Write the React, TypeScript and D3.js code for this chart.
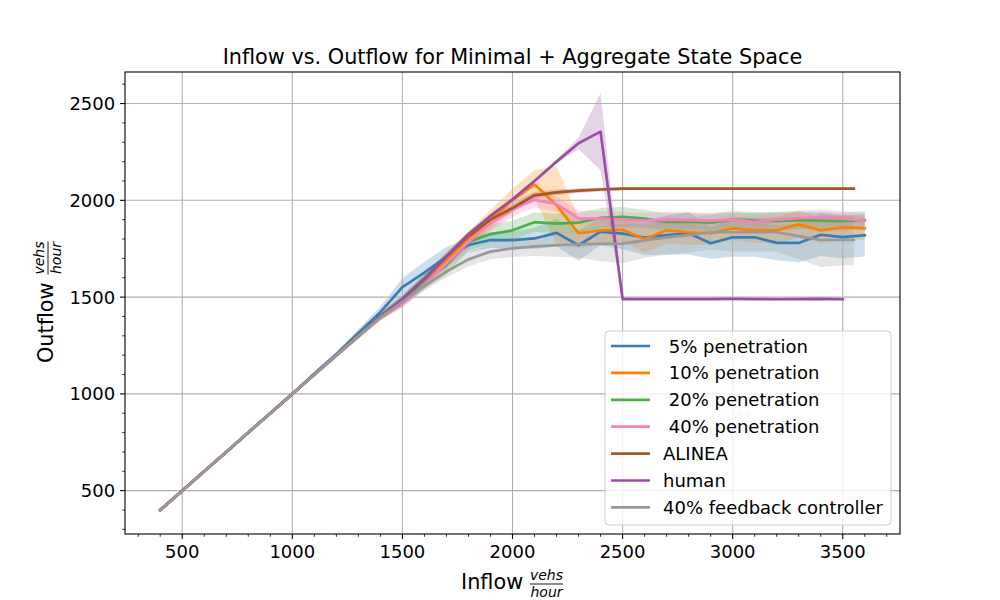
import { useEffect } from "react"
import * as d3 from "d3"

const inflow = [
  400, 500, 600, 700, 800, 900, 1000, 1100, 1200, 1300, 1400, 1500, 1600, 1700, 1800, 1900, 2000,
  2100, 2200, 2300, 2400, 2500, 2600, 2700, 2800, 2900, 3000, 3100, 3200, 3300, 3400, 3500, 3600,
]
// ALINEA and the feedback controller stop a little earlier
const inflowCut = [...inflow.slice(0, 32), 3550]
const inflowHuman = inflow.slice(0, 32)

const p5Mean = [
  400, 500, 600, 700, 800, 900, 1000, 1105, 1205, 1315, 1422, 1552, 1627, 1709, 1769, 1795, 1794,
  1803, 1832, 1768, 1838, 1828, 1808, 1820, 1830, 1778, 1809, 1809, 1780, 1780, 1822, 1810, 1820,
]
const p5Spread = [
  5, 5, 5, 5, 5, 6, 8, 10, 12, 20, 30, 45, 55, 50, 40, 40, 45, 55, 70, 80, 70, 80, 90, 100, 110, 80,
  100, 100, 90, 100, 110, 110, 110,
]

const p10Mean = [
  400, 500, 600, 700, 800, 900, 1000, 1100, 1200, 1300, 1400, 1482, 1582, 1692, 1800, 1900, 2000,
  2082, 1975, 1830, 1845, 1848, 1800, 1845, 1835, 1830, 1855, 1845, 1845, 1876, 1845, 1860, 1855,
]
const p10Spread = [
  5, 5, 5, 5, 5, 5, 6, 8, 10, 15, 20, 25, 30, 35, 40, 50, 60, 75, 200, 80, 70, 60, 70, 70, 65, 60,
  60, 65, 70, 70, 65, 60, 60,
]

const p20Mean = [
  400, 500, 600, 700, 800, 900, 1000, 1100, 1200, 1300, 1400, 1480, 1580, 1665, 1786, 1825, 1845,
  1887, 1880, 1885, 1910, 1915, 1905, 1888, 1890, 1885, 1900, 1895, 1893, 1897, 1895, 1892, 1898,
]
const p20Spread = [
  5, 5, 5, 5, 5, 5, 6, 8, 10, 15, 20, 30, 40, 50, 45, 50, 50, 50, 50, 50, 50, 50, 45, 45, 45, 45,
  45, 45, 45, 45, 45, 45, 45,
]

const p40Mean = [
  400, 500, 600, 700, 800, 900, 1000, 1100, 1198, 1296, 1395, 1465, 1565, 1675, 1786, 1880, 1955,
  2003, 1980, 1907, 1905, 1900, 1895, 1900, 1898, 1895, 1900, 1888, 1900, 1908, 1912, 1905, 1895,
]
const p40Spread = [
  5, 5, 5, 5, 5, 5, 6, 8, 10, 12, 15, 20, 25, 30, 35, 40, 40, 40, 40, 40, 40, 40, 40, 40, 40, 40,
  40, 40, 40, 40, 40, 40, 40,
]

const alineaMean = [
  400, 500, 600, 700, 800, 900, 1000, 1100, 1200, 1300, 1400, 1490, 1595, 1710, 1815, 1900, 1960,
  2026, 2041, 2050, 2056, 2060, 2060, 2060, 2060, 2060, 2060, 2060, 2060, 2060, 2060, 2060, 2060,
]
const alineaSpread = [
  5, 5, 5, 5, 5, 5, 6, 8, 10, 12, 15, 18, 20, 22, 22, 22, 20, 18, 15, 12, 10, 8, 6, 6, 6, 6, 6, 6,
  6, 6, 6, 6, 6,
]

const humanMean = [
  400, 500, 600, 700, 800, 900, 1000, 1100, 1200, 1300, 1400, 1490, 1595, 1710, 1825, 1920, 2005,
  2100, 2200, 2295, 2355, 1490, 1490, 1490, 1490, 1490, 1491, 1490, 1489, 1490, 1491, 1489,
]
const humanSpread = [
  4, 4, 4, 4, 4, 4, 4, 4, 5, 5, 6, 8, 8, 8, 8, 8, 8, 8, 10, 30, 200, 8, 5, 5, 5, 5, 5, 5, 5, 5, 5,
  5,
]

const feedbackMean = [
  400, 500, 600, 700, 800, 900, 1000, 1100, 1200, 1300, 1395, 1475, 1558, 1632, 1695, 1735, 1752,
  1762, 1768, 1773, 1775, 1776, 1793, 1809, 1820, 1835, 1835, 1835, 1835, 1815, 1795, 1795, 1795,
]
const feedbackSpread = [
  5, 5, 5, 5, 5, 5, 6, 8, 10, 12, 15, 20, 25, 30, 35, 40, 45, 50, 60, 70, 90, 100, 90, 90, 90, 90,
  100, 100, 100, 120, 140, 130, 130,
]

const seriesLabels = [
  " 5% penetration",
  " 10% penetration",
  " 20% penetration",
  " 40% penetration",
  "ALINEA",
  "human",
  "40% feedback controller",
]
const seriesColors = ["#377eb8", "#ff7f00", "#4daf4a", "#f781bf", "#a65628", "#984ea3", "#999999"]

const xTicks = [500, 1000, 1500, 2000, 2500, 3000, 3500]
const yTicks = [500, 1000, 1500, 2000, 2500]

const series = [
  { x: inflow, y: p5Mean, s: p5Spread },
  { x: inflow, y: p10Mean, s: p10Spread },
  { x: inflow, y: p20Mean, s: p20Spread },
  { x: inflow, y: p40Mean, s: p40Spread },
  { x: inflowCut, y: alineaMean, s: alineaSpread },
  { x: inflowHuman, y: humanMean, s: humanSpread },
  { x: inflowCut, y: feedbackMean, s: feedbackSpread },
].map((d, i) => ({ ...d, label: seriesLabels[i], color: seriesColors[i] }))

const W = 1000
const H = 600
const left = 125
const right = 900
const top = 72
const bottom = 534
const font = "DejaVu Sans, sans-serif"
const tickSize = 18
const labelSize = 20.8

export default function App() {
  useEffect(() => {
    document.body.style.margin = "0"
  }, [])

  const x = d3.scaleLinear().domain([240, 3760]).range([left, right])
  const y = d3.scaleLinear().domain([276, 2663]).range([bottom, top])

  const xMinor = d3.range(300, 3800, 100).filter((v) => v % 500 !== 0)
  const yMinor = d3.range(300, 2700, 100).filter((v) => v % 500 !== 0)

  type P = { x: number; y: number; s: number }
  const toPts = (d: { x: number[]; y: number[]; s: number[] }): P[] =>
    d.x.map((v, i) => ({ x: v, y: d.y[i], s: d.s[i] }))

  const line = d3
    .line<P>()
    .x((d) => x(d.x))
    .y((d) => y(d.y))
  const area = d3
    .area<P>()
    .x((d) => x(d.x))
    .y0((d) => y(d.y - d.s))
    .y1((d) => y(d.y + d.s))

  const legX = 605
  const legY = 331
  const rowH = 26.9

  return (
    <svg width={W} height={H} style={{ display: "block", background: "#fff" }} fontFamily={font}>
      <defs>
        <clipPath id="plot">
          <rect x={left} y={top} width={right - left} height={bottom - top} />
        </clipPath>
      </defs>

      <g clipPath="url(#plot)">
        {series.map((d) => (
          <path key={"a" + d.label} d={area(toPts(d)) ?? ""} fill={d.color} fillOpacity={0.25} stroke="none" />
        ))}
      </g>

      {/* grid */}
      <g stroke="#b0b0b0" strokeWidth={1.1}>
        {xTicks.map((t) => (
          <line key={"gx" + t} x1={x(t)} x2={x(t)} y1={top} y2={bottom} />
        ))}
        {yTicks.map((t) => (
          <line key={"gy" + t} x1={left} x2={right} y1={y(t)} y2={y(t)} />
        ))}
      </g>

      <g clipPath="url(#plot)" fill="none" strokeWidth={2.7} strokeLinejoin="round" strokeLinecap="square">
        {series.map((d) => (
          <path key={"l" + d.label} d={line(toPts(d)) ?? ""} stroke={d.color} />
        ))}
      </g>

      {/* spines */}
      <rect x={left} y={top} width={right - left} height={bottom - top} fill="none" stroke="#000" strokeWidth={1.1} />

      {/* x ticks */}
      <g stroke="#000" strokeWidth={1.1}>
        {xTicks.map((t) => (
          <line key={"tx" + t} x1={x(t)} x2={x(t)} y1={bottom} y2={bottom + 4.9} />
        ))}
        {xMinor.map((t) => (
          <line key={"mx" + t} x1={x(t)} x2={x(t)} y1={bottom} y2={bottom + 2.8} strokeWidth={0.8} />
        ))}
        {yTicks.map((t) => (
          <line key={"ty" + t} x1={left - 4.9} x2={left} y1={y(t)} y2={y(t)} />
        ))}
        {yMinor.map((t) => (
          <line key={"my" + t} x1={left - 2.8} x2={left} y1={y(t)} y2={y(t)} strokeWidth={0.8} />
        ))}
      </g>
      <g fontSize={tickSize} fill="#000">
        {xTicks.map((t) => (
          <text key={"lx" + t} x={x(t)} y={558} textAnchor="middle">
            {t}
          </text>
        ))}
        {yTicks.map((t) => (
          <text key={"ly" + t} x={left - 9.8} y={y(t) + 6.5} textAnchor="end">
            {t}
          </text>
        ))}
      </g>

      {/* title */}
      <text x={(left + right) / 2} y={64} textAnchor="middle" fontSize={labelSize}>
        Inflow vs. Outflow for Minimal + Aggregate State Space
      </text>

      {/* x label */}
      <g transform="translate(461,589)">
        <text x={0} y={0} fontSize={labelSize}>
          Inflow
        </text>
        <text x={85.5} y={-9} fontSize={14} fontStyle="italic" textAnchor="middle">
          vehs
        </text>
        <line x1={69} x2={102} y1={-5} y2={-5} stroke="#000" strokeWidth={0.9} />
        <text x={85.5} y={8} fontSize={14} fontStyle="italic" textAnchor="middle">
          hour
        </text>
      </g>

      {/* y label */}
      <g transform="translate(53,363) rotate(-90)">
        <text x={0} y={0} fontSize={labelSize}>
          Outflow
        </text>
        <text x={105} y={-9} fontSize={14} fontStyle="italic" textAnchor="middle">
          vehs
        </text>
        <line x1={88.5} x2={121.5} y1={-5} y2={-5} stroke="#000" strokeWidth={0.9} />
        <text x={105} y={8} fontSize={14} fontStyle="italic" textAnchor="middle">
          hour
        </text>
      </g>

      {/* legend */}
      <g>
        <rect
          x={legX}
          y={legY}
          width={286}
          height={194}
          rx={4}
          fill="#fff"
          fillOpacity={0.8}
          stroke="#cccccc"
          strokeWidth={1}
        />
        {series.map((d, i) => {
          const cy = legY + 15 + i * rowH
          return (
            <g key={"leg" + d.label}>
              <line x1={611} x2={650} y1={cy} y2={cy} stroke={d.color} strokeWidth={2.7} />
              <text x={663} y={cy + 6.5} fontSize={tickSize} style={{ whiteSpace: "pre" }}>
                {d.label}
              </text>
            </g>
          )
        })}
      </g>
    </svg>
  )
}
